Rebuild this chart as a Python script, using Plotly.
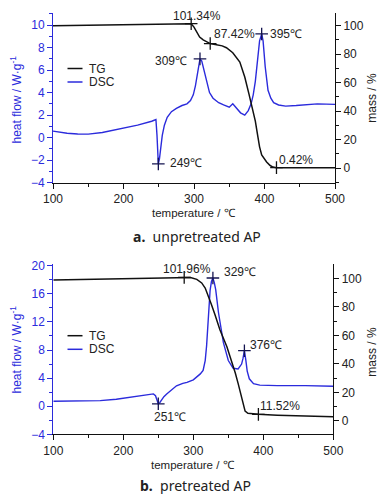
import plotly.graph_objects as go

# ---------------- data: (a) unpretreated AP ----------------
tg_a_T = [100, 150, 200, 250, 280, 296, 300, 304, 308, 313, 318, 323, 330, 340, 346, 355, 365, 372, 378,
          383, 387, 390, 393, 396, 400, 403, 408, 412, 417, 450, 500]
tg_a_mass = [100.0, 100.3, 100.6, 100.9, 101.1, 101.34, 99.0, 95.0, 92.0, 90.0, 88.5, 87.42, 86.8, 85.8, 84.5,
             81.0, 74.5, 64.0, 52.0, 42.0, 33.0, 24.0, 15.0, 9.3, 6.0, 4.4, 1.9, 0.8, 0.42, 0.4, 0.4]

dsc_a_T = [100, 110, 120, 135, 150, 170, 200, 220, 240, 246, 247.5, 248.5, 249.4, 251, 253, 255, 258, 262,
           268, 275, 283, 290, 295, 299, 302, 305, 307, 308.5, 311, 313, 315, 318, 322, 327, 335, 342, 350,
           355, 360, 366, 372, 377, 381, 384, 387, 390, 393, 396, 398, 401, 405, 409, 413, 420, 430, 445,
           460, 475, 500]
dsc_a_hf = [0.57, 0.45, 0.38, 0.32, 0.3, 0.45, 0.8, 1.1, 1.45, 1.6, 0.2, -1.5, -2.35, -1.9, -0.9, 0.2, 1.1,
            1.8, 2.3, 2.6, 2.85, 3.0, 3.3, 3.8, 4.6, 5.8, 6.6, 7.0, 6.8, 6.3, 5.6, 4.8, 4.0, 3.5, 3.1, 2.9,
            2.7, 3.0, 2.6, 2.2, 2.0, 2.4, 3.0, 3.8, 5.0, 7.0, 8.6, 9.22, 8.6, 6.3, 4.2, 3.5, 3.1, 2.9, 2.8,
            2.85, 2.95, 3.0, 2.95]

tg_a_mark_T = [296, 323, 417]
tg_a_mark_v = [101.34, 87.42, 0.42]
tg_a_mark_txt = ["101.34%", "87.42%", "0.42%"]
dsc_a_mark_T = [249.4, 308.5, 396]
dsc_a_mark_v = [-2.35, 7.0, 9.22]
dsc_a_mark_txt = ["249℃", "309℃", "395℃"]

# ---------------- data: (b) pretreated AP ----------------
tg_b_T = [100, 150, 200, 250, 287, 296, 305, 312, 317, 321, 326, 331, 338, 348, 355, 360, 364, 370, 374,
          378, 393, 420, 460, 500]
tg_b_mass = [98.8, 99.2, 99.7, 100.2, 100.7, 100.6, 99.3, 96.8, 93.2, 88.5, 81.5, 74.4, 63.9, 52.0, 41.5,
             33.5, 26.3, 15.0, 6.8, 5.2, 4.5, 3.9, 3.3, 2.8]

dsc_b_T = [100, 130, 167, 190, 214, 243, 246, 248, 250, 252, 255, 258, 262, 270, 276, 285, 291, 300, 306,
           310, 314, 317, 319, 321.5, 324, 326, 328, 330, 332, 336, 343, 350, 357, 364, 369, 371, 373, 375,
           377, 380, 386, 395, 420, 460, 500]
dsc_b_hf = [0.71, 0.72, 0.8, 1.0, 1.37, 1.75, 1.5, 0.9, 0.34, 0.5, 0.95, 1.35, 1.75, 2.4, 2.9, 3.25, 3.4,
            3.75, 4.2, 4.6, 5.1, 6.5, 8.6, 13.3, 16.5, 17.8, 18.25, 17.6, 16.6, 13.3, 9.05, 6.5, 5.4, 5.3,
            6.0, 6.8, 7.9, 6.6, 5.0, 3.9, 3.2, 3.0, 2.93, 2.93, 2.85]

tg_b_mark_T = [287, 393]
tg_b_mark_v = [100.7, 4.5]
tg_b_mark_txt = ["101.96%", "11.52%"]
dsc_b_mark_T = [250, 328, 373]
dsc_b_mark_v = [0.34, 18.25, 7.9]
dsc_b_mark_txt = ["251℃", "329℃", "376℃"]

# ---------------- styling ----------------
W, H = 392, 494
BLUE = "#2b2bdc"
BLACK = "#111111"
TXT = "#222222"
FONT = "Liberation Sans Narrow, Liberation Sans, Arial, sans-serif"
FS = 12


def px(x):
    return x / W


def py(y):
    return 1 - y / H


fig = go.Figure()

# traces (a)
fig.add_trace(go.Scatter(x=dsc_a_T, y=dsc_a_hf, xaxis="x", yaxis="y", mode="lines",
                         line=dict(color=BLUE, width=1.4), showlegend=False))
fig.add_trace(go.Scatter(x=tg_a_T, y=tg_a_mass, xaxis="x", yaxis="y2", mode="lines",
                         line=dict(color=BLACK, width=1.5), showlegend=False))
fig.add_trace(go.Scatter(x=dsc_a_mark_T, y=dsc_a_mark_v, xaxis="x", yaxis="y", mode="markers",
                         marker=dict(symbol="cross-thin", size=9, line=dict(color="#141450", width=1.3)),
                         showlegend=False))
fig.add_trace(go.Scatter(x=tg_a_mark_T, y=tg_a_mark_v, xaxis="x", yaxis="y2", mode="markers",
                         marker=dict(symbol="cross-thin", size=9, line=dict(color=BLACK, width=1.3)),
                         showlegend=False))
# traces (b)
fig.add_trace(go.Scatter(x=dsc_b_T, y=dsc_b_hf, xaxis="x2", yaxis="y3", mode="lines",
                         line=dict(color=BLUE, width=1.4), showlegend=False))
fig.add_trace(go.Scatter(x=tg_b_T, y=tg_b_mass, xaxis="x2", yaxis="y4", mode="lines",
                         line=dict(color=BLACK, width=1.5), showlegend=False))
fig.add_trace(go.Scatter(x=dsc_b_mark_T, y=dsc_b_mark_v, xaxis="x2", yaxis="y3", mode="markers",
                         marker=dict(symbol="cross-thin", size=9, line=dict(color="#141450", width=1.3)),
                         showlegend=False))
fig.add_trace(go.Scatter(x=tg_b_mark_T, y=tg_b_mark_v, xaxis="x2", yaxis="y4", mode="markers",
                         marker=dict(symbol="cross-thin", size=9, line=dict(color=BLACK, width=1.3)),
                         showlegend=False))

common_x = dict(range=[100, 500], dtick=100, showline=True, linecolor=BLACK, linewidth=1,
                ticks="outside", ticklen=5, tickcolor=BLACK, showgrid=False, zeroline=False,
                automargin=False,
                tickfont=dict(family=FONT, size=FS, color=TXT),
                minor=dict(ticks="outside", ticklen=3, dtick=50, tickcolor=BLACK, showgrid=False))


def yleft(dom, rng, dt, mdt, anchor):
    return dict(domain=dom, range=rng, dtick=dt, anchor=anchor, showline=True, linecolor=BLUE,
                linewidth=1, ticks="outside", ticklen=5, tickcolor=BLUE, showgrid=False,
                zeroline=False, automargin=False, tickfont=dict(family=FONT, size=FS, color=BLUE),
                minor=dict(ticks="outside", ticklen=3, dtick=mdt, tickcolor=BLUE, showgrid=False))


def yright(rng, overlay, anchor):
    return dict(range=rng, dtick=20, overlaying=overlay, side="right", anchor=anchor, showline=True,
                linecolor=BLACK, linewidth=1, ticks="outside", ticklen=5, tickcolor=BLACK,
                showgrid=False, zeroline=False, automargin=False,
                tickfont=dict(family=FONT, size=FS, color=TXT),
                minor=dict(ticks="outside", ticklen=3, dtick=10, tickcolor=BLACK, showgrid=False))


dom_a = [py(182.5), py(12.8)]
dom_b = [py(434.3), py(264.3)]

fig.update_layout(
    width=W, height=H, autosize=False,
    margin=dict(l=0, r=0, t=0, b=0, pad=0),
    paper_bgcolor="white", plot_bgcolor="white",
    showlegend=False,
    xaxis=dict(domain=[px(53), px(335)], anchor="y", **common_x),
    yaxis=yleft(dom_a, [-4, 11.1], 2, 1, "x"),
    yaxis2=yright([-10, 109], "y", "x"),
    xaxis2=dict(domain=[px(53.3), px(333.3)], anchor="y3", **common_x),
    yaxis3=yleft(dom_b, [-4, 20.2], 4, 2, "x2"),
    yaxis4=yright([-9.5, 109.9], "y3", "x2"),
)

ann = []
lab_font = dict(family=FONT, size=FS, color=TXT)


def add_labels(Ts, vs, txts, xref, yref, specs):
    for T, v, t, (xa, xs, ys) in zip(Ts, vs, txts, specs):
        ann.append(dict(x=T, y=v, xref=xref, yref=yref, text=t, showarrow=False, xanchor=xa,
                        yanchor="middle", xshift=xs, yshift=ys, font=lab_font))


add_labels(tg_a_mark_T, tg_a_mark_v, tg_a_mark_txt, "x", "y2",
           [("center", 6, 8), ("left", 2, 10), ("left", 1, 8)])
add_labels(dsc_a_mark_T, dsc_a_mark_v, dsc_a_mark_txt, "x", "y",
           [("left", 10, 1), ("right", -11, -2), ("left", 6, 0)])
add_labels(tg_b_mark_T, tg_b_mark_v, tg_b_mark_txt, "x2", "y4",
           [("center", 3, 8), ("left", 0, 8)])
add_labels(dsc_b_mark_T, dsc_b_mark_v, dsc_b_mark_txt, "x2", "y3",
           [("center", 12, -13), ("left", 9, 6), ("left", 4, 6)])

# axis titles
ttl = dict(family=FONT, size=FS)
for yc in (100, 350):
    ann.append(dict(x=px(15.5), y=py(yc), xref="paper", yref="paper", text="heat flow / W·g<sup>-1</sup>",
                    textangle=-90, showarrow=False, xanchor="center", yanchor="middle",
                    font=dict(color=BLUE, **ttl)))
for yc in (98, 352):
    ann.append(dict(x=px(371.7), y=py(yc), xref="paper", yref="paper", text="mass / %",
                    textangle=-90, showarrow=False, xanchor="center", yanchor="middle",
                    font=dict(color=TXT, **ttl)))
for xc, yc in ((194, 212.5), (193.3, 464.5)):
    ann.append(dict(x=px(xc), y=py(yc), xref="paper", yref="paper", text="temperature / ℃",
                    showarrow=False, xanchor="center", yanchor="middle",
                    font=dict(family=FONT, size=11.5, color=TXT)))

# captions
cap_font = dict(family="Noto Sans", size=14, color=TXT)
ann.append(dict(x=px(197), y=py(236), xref="paper", yref="paper", text="<b>a.</b>  unpretreated AP",
                showarrow=False, xanchor="center", yanchor="middle", font=cap_font))
ann.append(dict(x=px(195.5), y=py(485), xref="paper", yref="paper", text="<b>b.</b>  pretreated AP",
                showarrow=False, xanchor="center", yanchor="middle", font=cap_font))

# legends (manual)
shapes = []
for y_tg, y_dsc in ((68.5, 82), (335.7, 349.3)):
    for yy, col, name in ((y_tg, BLACK, "TG"), (y_dsc, BLUE, "DSC")):
        shapes.append(dict(type="line", xref="paper", yref="paper", x0=px(67.5), x1=px(82.5),
                           y0=py(yy), y1=py(yy), line=dict(color=col, width=1.5)))
        ann.append(dict(x=px(86.5), y=py(yy), xref="paper", yref="paper", text=name, showarrow=False,
                        xanchor="left", yanchor="middle", font=dict(family=FONT, size=FS, color=TXT)))

fig.update_layout(annotations=ann, shapes=shapes)

fig.write_html("out.html", config={"displayModeBar": False},
               post_script="document.body.style.margin='0';")
